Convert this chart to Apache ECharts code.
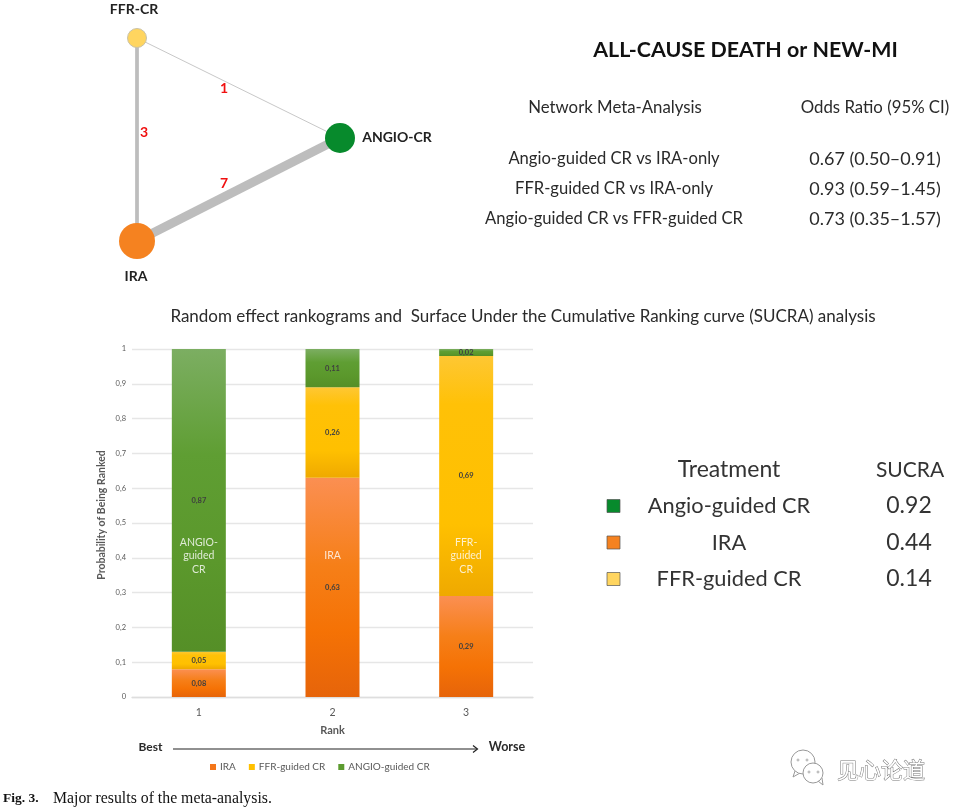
<!DOCTYPE html>
<html><head><meta charset="utf-8">
<style>html,body{margin:0;padding:0;background:#fff}#c{width:955px;height:811px}</style>
<script src="https://cdn.jsdelivr.net/npm/echarts@6/dist/echarts.min.js"></script>
</head><body><div id="c"></div>
<script>
const ranks = ['1','2','3'];
const iraValues = [0.08,0.63,0.29];
const ffrValues = [0.05,0.26,0.69];
const angioValues = [0.87,0.11,0.02];
const yTicks = [0,0.1,0.2,0.3,0.4,0.5,0.6,0.7,0.8,0.9,1];
const networkNodes = [
  {name:'FFR-CR', at:[137,38], size:19, color:'#ffd55f', border:'#c9c2a8', borderWidth:1},
  {name:'ANGIO-CR', at:[340,138], size:30, color:'#078a2c', border:'#078a2c', borderWidth:0},
  {name:'IRA', at:[137,241], size:36, color:'#f58220', border:'#f58220', borderWidth:0}
];
const networkEdges = [
  {source:'FFR-CR', target:'ANGIO-CR', trials:1},
  {source:'FFR-CR', target:'IRA', trials:3},
  {source:'IRA', target:'ANGIO-CR', trials:7}
];
const nmaRows = [
  ['Angio-guided CR vs IRA-only','0.67 (0.50\u20130.91)'],
  ['FFR-guided CR vs IRA-only','0.93 (0.59\u20131.45)'],
  ['Angio-guided CR vs FFR-guided CR','0.73 (0.35\u20131.57)']
];
const sucraRows = [
  ['Angio-guided CR','0.92','#078a2c'],
  ['IRA','0.44','#f58220'],
  ['FFR-guided CR','0.14','#ffd55f']
];
const F = 'Lato, "Open Sans", sans-serif';
function grad(stops){return new echarts.graphic.LinearGradient(0,0,0,1,stops.map(s=>({offset:s[0],color:s[1]})));}
const valueLabel = {show:true,position:'inside',fontSize:7.5,fontWeight:'bold',fontFamily:F,color:'#3f3f3f',
  formatter:p=>String(p.value).replace('.',',')};
function bar(name,vals,stops){return {name,type:'bar',stack:'r',barWidth:54,data:vals,
  itemStyle:{color:grad(stops)},label:valueLabel,emphasis:{disabled:true}};}
function txt(x,y,text,o){return {type:'text',x,y,silent:true,style:Object.assign({text,fill:'#2a2a2a',font:'17px '+F,textAlign:'center',textVerticalAlign:'middle'},o||{})};}
const g = [];
g.push(txt(745.5,50,'ALL-CAUSE DEATH or NEW-MI',{font:'bold 21.4px '+F,fill:'#111'}));
g.push(txt(615,108,'Network Meta-Analysis',{font:'16.8px '+F}));
g.push(txt(875,108,'Odds Ratio (95% CI)',{font:'16.8px '+F}));
nmaRows.forEach((r,i)=>{const y=159+i*30;
  g.push(txt(614,y,r[0],{font:'16.6px '+F}));
  g.push(txt(875,y,r[1],{font:'18px '+F}));
});
g.push(txt(523,317,'Random effect rankograms and  Surface Under the Cumulative Ranking curve (SUCRA) analysis',{font:'17px '+F}));
g.push(txt(729,470,'Treatment',{font:'23px '+F,fill:'#333'}));
g.push(txt(910,470,'SUCRA',{font:'21px '+F,fill:'#333'}));
sucraRows.forEach((r,i)=>{const y=506+i*36.5;
  g.push({type:'rect',silent:true,shape:{x:607,y:y-6.5,width:13,height:13},style:{fill:r[2],stroke:'#555',lineWidth:.7}});
  g.push(txt(729,y,r[0],{font:'21.8px '+F,fill:'#333'}));
  g.push(txt(909,y,r[1],{font:'23px '+F,fill:'#333'}));
});
g.push(txt(150.5,747,'Best',{font:'bold 12px '+F}));
g.push(txt(507,747,'Worse',{font:'bold 12.5px '+F}));
g.push({type:'line',silent:true,shape:{x1:173,y1:749,x2:477,y2:749},style:{stroke:'#222',lineWidth:1.2}});
g.push({type:'polyline',silent:true,shape:{points:[[473,745.5],[477.5,749],[473,752.5]]},style:{stroke:'#222',lineWidth:1.2,fill:null}});
g.push(txt(3,798.5,'Fig. 3.',{font:'bold 13.5px "Liberation Serif"',textAlign:'left',fill:'#111'}));
g.push(txt(53,798.5,'Major results of the meta-analysis.',{font:'15.8px "Liberation Serif"',textAlign:'left',fill:'#111'}));
g.push(txt(881,770,'见心论道',{font:'22px "Noto Sans CJK SC"',fill:'#fff',stroke:'#777',lineWidth:1}));
const icon='#999';
g.push({type:'polyline',silent:true,shape:{points:[[795,771],[793,777],[800,773]]},style:{stroke:icon,lineWidth:1,fill:'#fff'}});
g.push({type:'circle',silent:true,shape:{cx:803,cy:762,r:12},style:{fill:'#fff',stroke:icon,lineWidth:1}});
g.push({type:'polyline',silent:true,shape:{points:[[818,781],[823,785],[822,778]]},style:{stroke:icon,lineWidth:1,fill:'#fff'}});
g.push({type:'circle',silent:true,shape:{cx:813,cy:773,r:10},style:{fill:'#fff',stroke:icon,lineWidth:1}});
[[798,760],[807,760],[809,772],[818,772]].forEach(p=>g.push({type:'circle',silent:true,shape:{cx:p[0],cy:p[1],r:1},style:{fill:'#fff',stroke:icon,lineWidth:.8}}));
const chart = echarts.init(document.getElementById('c'),null,{renderer:'canvas'});
chart.setOption({
  animation:false,
  backgroundColor:'#fff',
  textStyle:{fontFamily:F},
  legend:{data:[{name:'IRA',itemStyle:{color:'#f4761a'}},{name:'FFR-guided CR',itemStyle:{color:'#ffc000'}},{name:'ANGIO-guided CR',itemStyle:{color:'#5c9b2f'}}],
    left:205,top:757,itemWidth:6,itemHeight:6,itemGap:13,
    icon:'rect',textStyle:{fontSize:10,color:'#595959',fontFamily:F,padding:[0,0,0,-1]}},
  grid:[
    {left:132,right:422,top:349,height:348,containLabel:false},
    {left:0,top:0,width:955,height:811,show:false}
  ],
  xAxis:[
    {type:'category',gridIndex:0,data:ranks,name:'Rank',nameLocation:'middle',nameGap:28,
      nameTextStyle:{fontSize:11,fontWeight:'bold',color:'#595959',fontFamily:F},
      axisLine:{lineStyle:{color:'#dedede',width:1.3}},axisTick:{show:false},
      axisLabel:{fontSize:10.5,color:'#595959',margin:10,fontFamily:F}},
    {type:'value',gridIndex:1,min:0,max:955,show:false}
  ],
  yAxis:[
    {type:'value',gridIndex:0,min:0,max:1,interval:0.1,name:'Probability of Being Ranked',nameLocation:'middle',nameGap:25,
      nameTextStyle:{fontSize:10.5,fontWeight:'bold',color:'#595959',fontFamily:F,padding:[0,0,0,16]},
      axisLine:{show:false},axisTick:{show:false},
      splitLine:{lineStyle:{color:'#e6e6e6',width:1.3}},
      axisLabel:{fontSize:7.5,color:'#595959',margin:6,fontFamily:F,
        formatter:v=>String(yTicks[Math.round(v*10)]).replace('.',',')}},
    {type:'value',gridIndex:1,min:0,max:811,inverse:true,show:false}
  ],
  series:[
    bar('IRA',iraValues,[[0,'#fb8f52'],[.4,'#f67f18'],[.7,'#f57205'],[1,'#e6640a']]),
    bar('FFR-guided CR',ffrValues,[[0,'#fec733'],[.2,'#ffc107'],[.7,'#ffc000'],[1,'#efa900']]),
    bar('ANGIO-guided CR',angioValues,[[0,'#7cae62'],[.35,'#5f9e33'],[.7,'#5b982c'],[1,'#558f27']]),
    {type:'scatter',name:'names',xAxisIndex:0,yAxisIndex:0,symbolSize:0,silent:true,z:5,
      data:[['1',0.405,'ANGIO-\nguided\nCR'],['2',0.405,'IRA'],['3',0.405,'FFR-\nguided\nCR']],
      label:{show:true,position:'inside',formatter:p=>p.value[2],color:'#fff',fontSize:10.5,lineHeight:13.5,fontFamily:F,align:'center',verticalAlign:'middle'}},
    {type:'graph',coordinateSystem:'cartesian2d',xAxisIndex:1,yAxisIndex:1,layout:'none',silent:true,z:3,
      data:networkNodes.map(n=>({name:n.name,value:n.at,symbolSize:n.size,itemStyle:{color:n.color,borderColor:n.border,borderWidth:n.borderWidth}})),
      links:networkEdges.map(e=>({source:e.source,target:e.target,value:e.trials,lineStyle:{width:e.trials==1?1:e.trials*1.25,color:e.trials==1?'#c8c8c8':'#bdbdbd',curveness:0,opacity:1}})),
      label:{show:false}}
  ],
  graphic:{elements:g.concat([
    txt(134,9,'FFR-CR',{font:'bold 14px '+F,fill:'#222'}),
    txt(397,137,'ANGIO-CR',{font:'bold 14px '+F,fill:'#222'}),
    txt(136,276,'IRA',{font:'bold 14px '+F,fill:'#222'}),
    txt(224,88,'1',{font:'bold 14px '+F,fill:'#f01010'}),
    txt(144,132,'3',{font:'bold 14px '+F,fill:'#f01010'}),
    txt(224,183,'7',{font:'bold 14px '+F,fill:'#f01010'})
  ])}
});
</script></body></html>
